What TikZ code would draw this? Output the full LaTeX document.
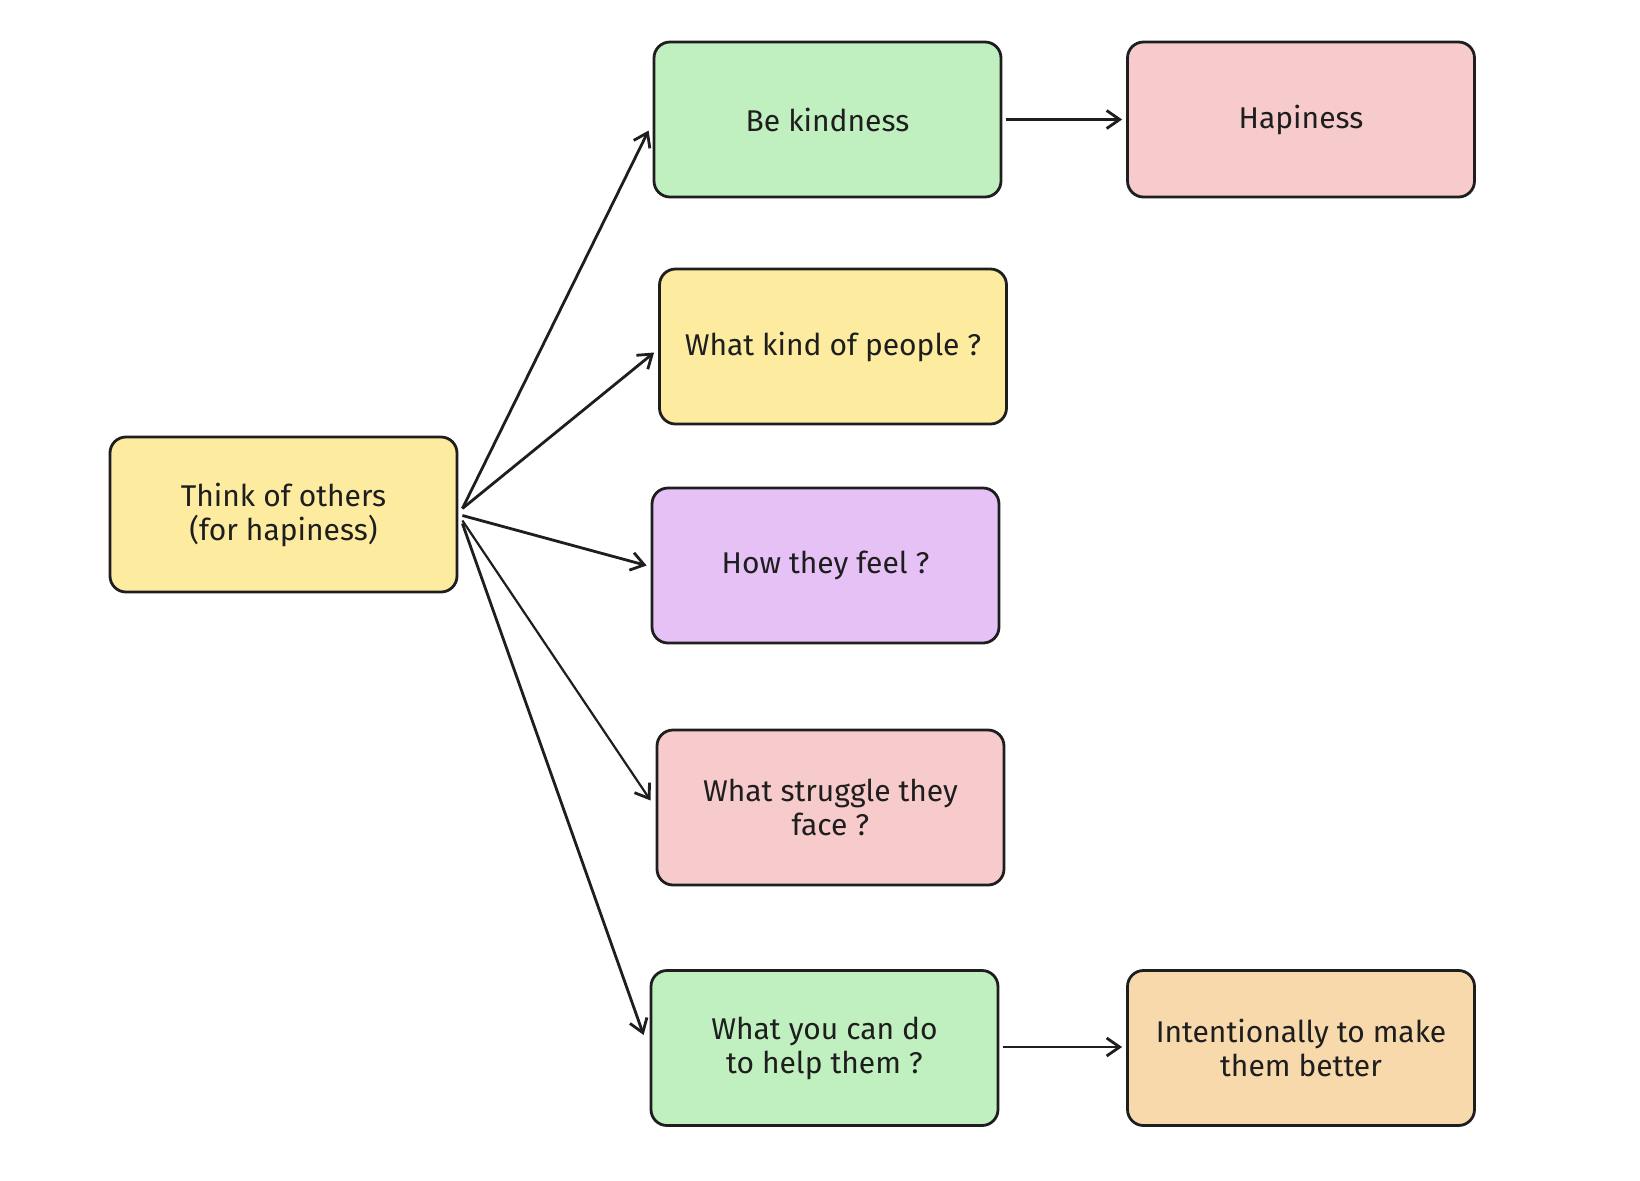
\documentclass[tikz,border=0pt]{standalone}
\usepackage{fontspec}
\setmainfont{Fira Sans}
\usetikzlibrary{arrows.meta,calc}
\definecolor{mintgreen}{HTML}{C0F0C0}
\definecolor{softpink}{HTML}{F7CBCB}
\definecolor{paleyellow}{HTML}{FDEBA0}
\definecolor{lilac}{HTML}{E6C1F6}
\definecolor{peach}{HTML}{F8D9AB}
\definecolor{inkline}{HTML}{1E1E1E}
\begin{document}
\begin{tikzpicture}[x=0.5pt,y=-0.5pt,
  box/.style={draw=inkline, line width=1.4pt, rounded corners=8pt, minimum width=173.5pt, minimum height=77.5pt, align=center, font=\fontsize{15}{17}\selectfont, text=inkline},
  arr/.style={draw=inkline, line width=1.4pt, -{Straight Barb[length=6.5pt,width=9pt,line width=1.4pt]}}]
\useasboundingbox (0,0) rectangle (1640,1180);
% boxes
\node[box, fill=paleyellow] (think) at (283.5,514.5) {Think of others\\(for hapiness)};
\node[box, fill=mintgreen] (kind) at (827.5,119.5) {Be kindness};
\node[box, fill=softpink] (hap) at (1301,119.5) {Hapiness};
\node[box, fill=paleyellow] (people) at (833,346.5) {What kind of people ?};
\node[box, fill=lilac] (feel) at (825.5,565.5) {How they feel ?};
\node[box, fill=softpink] (struggle) at (830.5,807.5) {What struggle they\\face ?};
\node[box, fill=mintgreen] (help) at (824.5,1048) {What you can do\\to help them ?};
\node[box, fill=peach] (intent) at (1301,1048) {Intentionally to make\\them better};
% arrows from the centre box
\draw[arr] ($(think.east)+(4,-6)$) -- ($(kind.west)+(-4,11)$);
\draw[arr] ($(think.east)+(4,-6)$) -- ($(people.west)+(-4,6)$);
\draw[arr] ($(think.east)+(4,1)$) -- ($(feel.west)+(-4,0)$);
\draw[arr, line width=1.1pt] ($(think.east)+(4,6)$) -- ($(struggle.west)+(-5,-7)$);
\draw[arr] ($(think.east)+(4,9)$) -- ($(help.west)+(-6,-13)$);
% arrows to the right column
\draw[arr] ($(kind.east)+(4,0)$) -- ($(hap.west)+(-4,0)$);
\draw[arr] ($(help.east)+(4,-1)$) -- ($(intent.west)+(-4,-1)$);
\end{tikzpicture}
\end{document}
